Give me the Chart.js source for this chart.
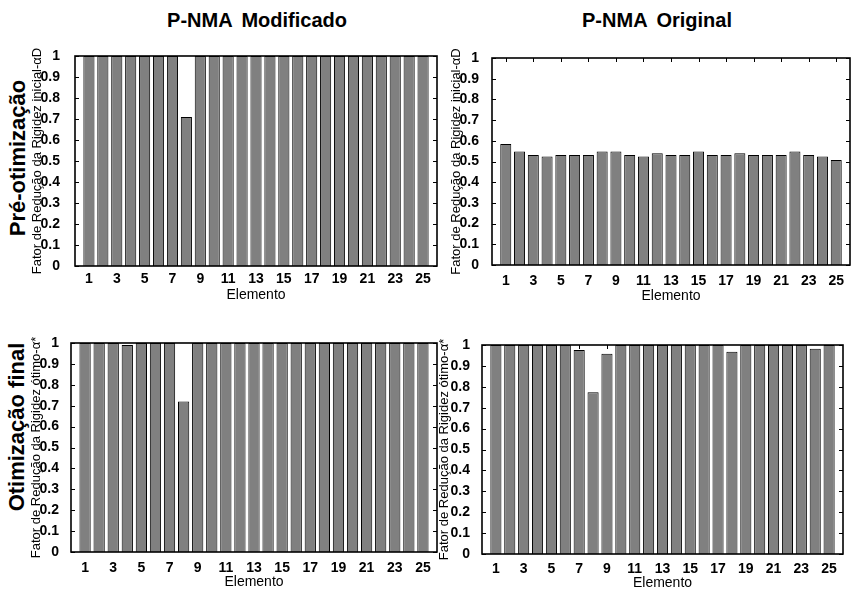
<!DOCTYPE html>
<html>
<head>
<meta charset="utf-8">
<script src="https://cdn.jsdelivr.net/npm/chart.js@4"></script>
<style>
  body { margin: 0; background: #fff; }
  #fig { position: relative; width: 853px; height: 590px; overflow: hidden; font-family: "Liberation Sans", Arial, sans-serif; }
  canvas { position: absolute; }
  .coltitle { position: absolute; top: 9px; font-weight: bold; font-size: 20px; word-spacing: 4px; transform: translateX(-50%); white-space: nowrap; }
  .rowtitle { position: absolute; font-weight: bold; font-size: 22px; white-space: nowrap; transform: translate(-50%, -50%) rotate(-90deg); }
</style>
</head>
<body>
<div id="fig">
  <div class="coltitle" style="left:257px">P-NMA Modificado</div>
  <div class="coltitle" style="left:657px">P-NMA Original</div>
  <div class="rowtitle" style="left:18px; top:158px">Pré-otimização</div>
  <div class="rowtitle" style="left:17px; top:427px">Otimização final</div>
  <canvas id="c1" width="440" height="265" style="left:0px; top:40px"></canvas>
  <canvas id="c2" width="428" height="265" style="left:425px; top:40px"></canvas>
  <canvas id="c3" width="440" height="280" style="left:0px; top:310px"></canvas>
  <canvas id="c4" width="428" height="280" style="left:425px; top:310px"></canvas>
</div>
<script>
// elements 1..25
const elementos = [1, 2, 3, 4, 5, 6, 7, 8, 9, 10, 11, 12, 13, 14, 15, 16, 17, 18, 19, 20, 21, 22, 23, 24, 25];
const xTickLabels = [1, 3, 5, 7, 9, 11, 13, 15, 17, 19, 21, 23, 25];

// Pré-otimização
const modInicial = [1, 1, 1, 1, 1, 1, 1, 0.71, 1, 1, 1, 1, 1, 1, 1, 1, 1, 1, 1, 1, 1, 1, 1, 1, 1];
const origInicial = [0.584, 0.548, 0.532, 0.524, 0.532, 0.532, 0.532, 0.548, 0.548, 0.532, 0.524, 0.54, 0.532,
                     0.532, 0.548, 0.532, 0.532, 0.54, 0.532, 0.532, 0.532, 0.548, 0.532, 0.524, 0.507];

// Otimização final
const modOtimo = [1, 1, 1, 0.99, 1, 1, 1, 0.72, 1, 1, 1, 1, 1, 1, 1, 1, 1, 1, 1, 1, 1, 1, 1, 1, 1];
const origOtimo = [1, 1, 1, 1, 1, 1, 0.976, 0.774, 0.958, 1, 1, 1, 1, 1, 1, 1, 1, 0.968, 1, 1, 1, 1, 1, 0.982, 1];

const labelInicial = 'Fator de Redução da Rigidez inicial-αD';
const labelOtimo = 'Fator de Redução da Rigidez ótimo-α*';

Chart.defaults.font.family = '"Liberation Sans", Arial, sans-serif';
Chart.defaults.color = '#000';

// matlab style box with inward ticks
const boxTicks = {
    id: 'boxTicks',
    beforeDatasetsDraw(chart) {
        const { ctx, chartArea: a, scales: { x, y } } = chart;
        ctx.save();
        ctx.strokeStyle = '#000';
        ctx.lineWidth = 1;
        ctx.beginPath();
        x.ticks.forEach(t => {
            const px = Math.round(x.getPixelForValue(t.value)) + 0.5;
            ctx.moveTo(px, a.bottom); ctx.lineTo(px, a.bottom - 4);
            ctx.moveTo(px, a.top); ctx.lineTo(px, a.top + 4);
        });
        y.ticks.forEach(t => {
            const py = Math.round(y.getPixelForValue(t.value)) + 0.5;
            ctx.moveTo(a.left, py); ctx.lineTo(a.left + 4, py);
            ctx.moveTo(a.right, py); ctx.lineTo(a.right - 4, py);
        });
        ctx.stroke();
        ctx.restore();
    },
    afterDatasetsDraw(chart) {
        const { ctx, chartArea: a } = chart;
        ctx.save();
        ctx.strokeStyle = '#000';
        ctx.lineWidth = 1.6;
        ctx.strokeRect(a.left, a.top, a.right - a.left, a.bottom - a.top);
        ctx.restore();
    }
};

function makeChart(id, values, yLabel, cfg) {
    const ctx = document.getElementById(id).getContext('2d');
    return new Chart(ctx, {
        type: 'bar',
        data: {
            datasets: [{
                data: elementos.map((e, i) => ({ x: e, y: values[i] })),
                backgroundColor: '#808080',
                borderColor: '#000',
                borderWidth: 1,
                categoryPercentage: 1,
                barPercentage: 0.8
            }]
        },
        options: {
            responsive: false,
            animation: false,
            layout: { padding: { top: cfg.top, right: cfg.right, left: 0, bottom: 0 } },
            plugins: { legend: { display: false }, tooltip: { enabled: false } },
            scales: {
                x: {
                    type: 'linear',
                    min: 0,
                    max: 26,
                    offset: false,
                    grid: { display: false, offset: false },
                    border: { display: false },
                    afterBuildTicks: scale => { scale.ticks = xTickLabels.map(v => ({ value: v })); },
                    afterFit: scale => { scale.height = cfg.xh; },
                    ticks: { font: { size: 14, weight: 'bold' }, padding: cfg.xpad, maxRotation: 0, autoSkip: false },
                    title: { display: true, text: 'Elemento', font: { size: 14 }, padding: { top: 0, bottom: cfg.tbot } }
                },
                y: {
                    min: 0,
                    max: 1,
                    grid: { display: false },
                    border: { display: false },
                    afterFit: scale => { scale.width = cfg.yw; },
                    ticks: {
                        stepSize: 0.1,
                        font: { size: 14, weight: 'bold' },
                        padding: cfg.ypad,
                        callback: v => String(Math.round(v * 10) / 10)
                    },
                    title: { display: true, text: yLabel, font: { size: 13 }, padding: { top: cfg.tpad, bottom: 0 } }
                }
            }
        },
        plugins: [boxTicks]
    });
}

makeChart('c1', modInicial, labelInicial, { top: 16, right: 3, xh: 39, xpad: -3, tbot: 1, yw: 75, ypad: 7, tpad: 30 });
makeChart('c2', origInicial, labelInicial, { top: 18, right: 3, xh: 40, xpad: 0, tbot: 0, yw: 67, ypad: 5, tpad: 24 });
makeChart('c3', modOtimo, labelOtimo, { top: 33, right: 3, xh: 38, xpad: 0, tbot: -1, yw: 71, ypad: 4, tpad: 29 });
makeChart('c4', origOtimo, labelOtimo, { top: 35, right: 10, xh: 36, xpad: -1, tbot: -1.5, yw: 57, ypad: 4, tpad: 12 });
</script>
</body>
</html>
